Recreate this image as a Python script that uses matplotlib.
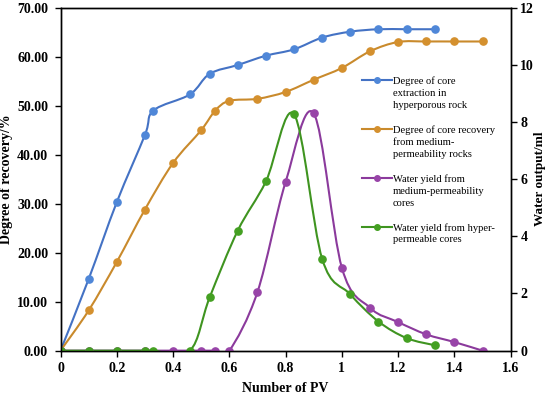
import matplotlib
matplotlib.use('Agg')
import matplotlib.pyplot as plt
from matplotlib.path import Path
from matplotlib.patches import PathPatch
from matplotlib.lines import Line2D
from matplotlib.ticker import FormatStrFormatter

plt.rcParams['font.family'] = ['Liberation Serif', 'DejaVu Serif']

# PV values for the hyper-permeable core and the medium-permeability core
pv_hyper = [0, 0.1, 0.2, 0.3, 0.33, 0.46, 0.53, 0.63, 0.73, 0.83, 0.93, 1.03, 1.13, 1.23, 1.33]
pv_medium = [0, 0.1, 0.2, 0.3, 0.4, 0.5, 0.55, 0.6, 0.7, 0.8, 0.9, 1.0, 1.1, 1.2, 1.3, 1.4, 1.5]

# degree of recovery (%), left axis
recovery_hyper = [0, 14.6, 30.3, 44.0, 49.0, 52.3, 56.5, 58.3, 60.2, 61.5, 63.9, 65.1, 65.6, 65.6, 65.6]
recovery_medium = [0, 8.2, 18.1, 28.8, 38.3, 45.0, 49.0, 51.0, 51.4, 52.8, 55.3, 57.7, 61.1, 63.0,
                   63.1, 63.1, 63.1]

# water output (ml), right axis
water_medium = [0, 0, 0, 0, 0, 0, 0, 0, 2.05, 5.9, 8.3, 2.9, 1.5, 1.0, 0.57, 0.3, 0]
water_hyper = [0, 0, 0, 0, 0, 0, 1.86, 4.2, 5.92, 8.27, 3.21, 1.97, 1.02, 0.44, 0.19]

labels = ['Degree of core\nextraction in\nhyperporous rock',
          'Degree of core recovery\nfrom medium-\npermeability rocks',
          'Water yield from\nmedium-permeability\ncores',
          'Water yield from hyper-\npermeable cores']
line_colors = ['#4472C4', '#C98A2C', '#8B3A9C', '#3F9420']
marker_colors = ['#4F87D8', '#D4902E', '#9844A8', '#44A022']

W, H = 550.0, 394.0


def smooth_line(ax, xs, ys, color):
    # Excel-style smoothed line: cubic Bezier through every point
    pts = list(zip(xs, ys))
    n = len(pts)
    verts = [pts[0]]
    codes = [Path.MOVETO]
    for i in range(n - 1):
        p0 = pts[i - 1] if i > 0 else pts[i]
        p1 = pts[i]
        p2 = pts[i + 1]
        p3 = pts[i + 2] if i + 2 < n else pts[i + 1]
        c1 = (p1[0] + (p2[0] - p0[0]) / 6, p1[1] + (p2[1] - p0[1]) / 6)
        c2 = (p2[0] - (p3[0] - p1[0]) / 6, p2[1] - (p3[1] - p1[1]) / 6)
        verts += [c1, c2, p2]
        codes += [Path.CURVE4] * 3
    ax.add_patch(PathPatch(Path(verts, codes), fill=False, edgecolor=color,
                           linewidth=1.5, transform=ax.transData))


fig = plt.figure(figsize=(5.5, 3.94), dpi=100)
ax = fig.add_axes([0.110, 0.110, 0.8185, 0.8705])
ax2 = ax.twinx()

series = [(ax, pv_hyper, recovery_hyper), (ax, pv_medium, recovery_medium),
          (ax2, pv_medium, water_medium), (ax2, pv_hyper, water_hyper)]
for (a, xs, ys), lc, mc in zip(series, line_colors, marker_colors):
    smooth_line(a, xs, ys, lc)
    a.plot(xs, ys, linestyle='none', marker='o', markersize=5.2,
           markerfacecolor=mc, markeredgecolor=mc)

ax.set_xlim(0, 1.6)
ax.set_ylim(0, 70)
ax2.set_ylim(0, 12)
ax.set_xticks([0, 0.2, 0.4, 0.6, 0.8, 1, 1.2, 1.4, 1.6])
ax.set_xticklabels(['0', '0.2', '0.4', '0.6', '0.8', '1', '1.2', '1.4', '1.6'])
ax.set_yticks(range(0, 71, 10))
ax.yaxis.set_major_formatter(FormatStrFormatter('%.2f'))
ax2.set_yticks(range(0, 13, 2))

for a in (ax, ax2):
    a.tick_params(direction='out', length=4, width=1, labelsize=10, pad=5)
    for lbl in a.get_xticklabels() + a.get_yticklabels():
        lbl.set_fontweight('bold')
    for sp in a.spines.values():
        sp.set_linewidth(1)
ax.tick_params(axis='x', pad=4)
ax2.tick_params(axis='y', pad=3)

ax.set_xlabel('Number of PV', fontsize=10, fontweight='bold', labelpad=5)
ax.set_ylabel('Degree of recovery/%', fontsize=10, fontweight='bold', labelpad=3)
ax2.set_ylabel('Water output/ml', fontsize=9.5, fontweight='bold', labelpad=0)

# legend drawn by hand: Excel puts the key beside the first text line
first_line_y = [80, 129, 178, 226.7]
line_step = 12.2
for lab, lc, mc, y0 in zip(labels, line_colors, marker_colors, first_line_y):
    fy = 1 - y0 / H
    fig.add_artist(Line2D([362 / W, 377 / W, 392 / W], [fy, fy, fy],
                          transform=fig.transFigure, color=lc, linewidth=1.5,
                          marker='o', markersize=4, markevery=[1],
                          markerfacecolor=mc, markeredgecolor=mc))
    for k, txt in enumerate(lab.split('\n')):
        fig.text(393 / W, 1 - (y0 + k * line_step) / H, txt, fontsize=7.6,
                 ha='left', va='center_baseline')

fig.savefig('out.png', dpi=100)
